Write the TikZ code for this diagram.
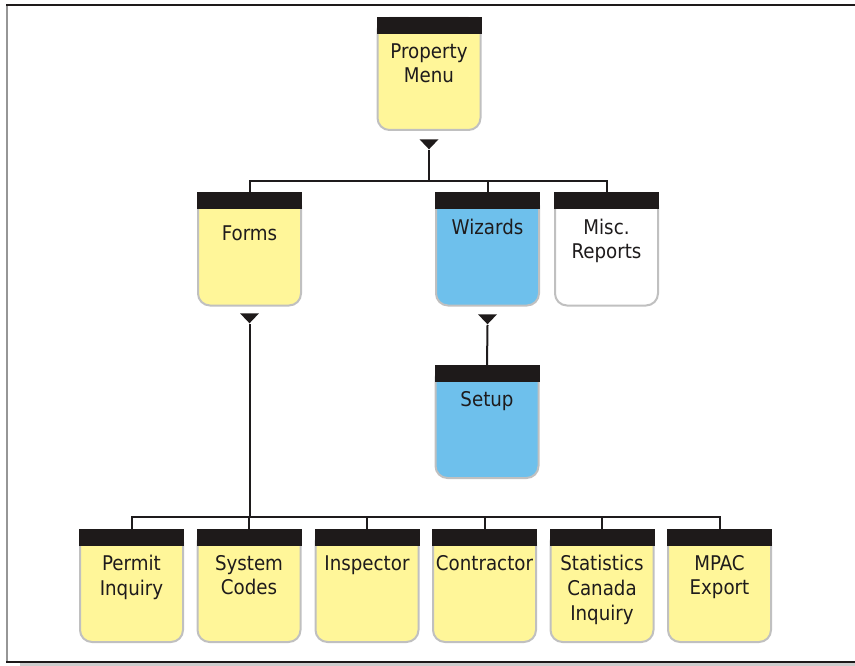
\documentclass[tikz,border=0pt]{standalone}
\usepackage{fontspec}
\setmainfont{DejaVu Sans Condensed}
\usetikzlibrary{shapes.geometric}

\definecolor{menuyellow}{RGB}{255,246,153}
\definecolor{menublue}{RGB}{110,192,236}
\definecolor{menuwhite}{RGB}{255,255,255}
\definecolor{rimgray}{RGB}{192,192,192}
\definecolor{barblack}{RGB}{30,26,26}
\definecolor{inkdark}{RGB}{30,27,28}
\definecolor{framegray}{RGB}{150,150,150}
\definecolor{shadegray}{RGB}{205,205,205}

\tikzset{
    menu/.style={rectangle, rounded corners=9pt, draw=rimgray, line width=1.5pt,
        fill=#1, minimum width=77.25pt, minimum height=84pt, inner sep=0pt},
    lbl/.style={anchor=north, yshift=-19.5pt, align=center, inner sep=0pt,
        text=inkdark, font=\fontsize{15.2}{18.5}\selectfont},
    tri/.style={isosceles triangle, isosceles triangle stretches, shape border rotate=-90,
        fill=barblack, inner sep=0pt, minimum width=14.25pt, minimum height=7.5pt},
    link/.style={draw=inkdark, line width=1.5pt}
}

\begin{document}
\begin{tikzpicture}[x=0.75pt, y=-0.75pt]
        \useasboundingbox (0,0) rectangle (855,666);

        % Frame
        \fill[shadegray] (20,663) rectangle (855,666);
        \draw[framegray, line width=1.5pt] (6.5,5) -- (6.5,662);
        \draw[barblack, line width=1.5pt] (6,5) -- (855,5);
        \draw[barblack, line width=1.2pt] (6,662) -- (855,662);

        % Top level
        \node[menu=menuyellow, label={[lbl]north:Property\\Menu}] (prop) at (429,74) {};

        % Second level
        \node[menu=menuyellow, label={[lbl, yshift=-5pt]north:Forms}] (forms) at (249.5,249.5) {};
        \node[menu=menublue, label={[lbl]north:Wizards}] (wiz) at (487.5,249.5) {};
        \node[menu=menuwhite, label={[lbl]north:Misc.\\Reports}] (misc) at (606.5,249.5) {};
        \node[menu=menublue, label={[lbl]north:Setup}] (setup) at (487,422) {};

        % Forms row
        \node[menu=menuyellow, label={[lbl]north:Permit\\Inquiry}] (permit) at (131.5,586) {};
        \node[menu=menuyellow, label={[lbl]north:System\\Codes}] (syscodes) at (249,586) {};
        \node[menu=menuyellow, label={[lbl]north:Inspector}] (inspector) at (367,586) {};
        \node[menu=menuyellow, label={[lbl]north:Contractor}] (contractor) at (484.5,586) {};
        \node[menu=menuyellow, label={[lbl]north:Statistics\\Canada\\Inquiry}] (statcan) at (602,586) {};
        \node[menu=menuyellow, label={[lbl]north:MPAC\\Export}] (mpac) at (719.5,586) {};

        % Title bars
        \foreach \n in {prop,forms,wiz,misc,setup,permit,syscodes,inspector,contractor,statcan,mpac}
            \fill[barblack] (\n.north west) rectangle ([yshift=-12.75pt]\n.north east);

        % Drop markers
        \node[tri, anchor=apex] (proptri) at (429,150) {};
        \node[tri, anchor=apex] (formstri) at (249.5,324) {};
        \node[tri, anchor=apex] (wiztri) at (487.5,325) {};

        % Connectors
        \coordinate (topbus) at (429,181);
        \coordinate (botbus) at (249.5,517);
        \draw[link] (proptri.apex) -- (topbus);
        \draw[link] (forms.north) |- (topbus) -| (misc.north);
        \draw[link] (wiz.north) -- (wiz.north |- topbus);
        \draw[link] (wiztri.apex) -- (setup.north);
        \draw[link] (formstri.apex) -- (botbus);
        \draw[link] (permit.north) |- (botbus) -| (mpac.north);
        \foreach \n in {syscodes,inspector,contractor,statcan}
            \draw[link] (\n.north) -- (\n.north |- botbus);

    \end{tikzpicture}
\end{document}
